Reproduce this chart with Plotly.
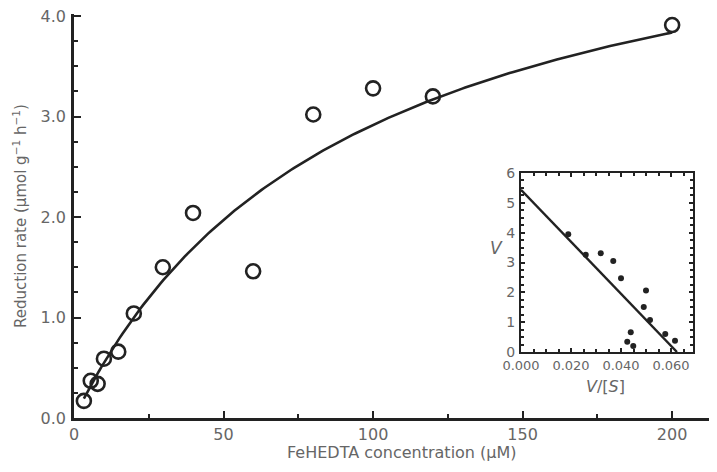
import numpy as np
import plotly.graph_objects as go

# Main data: FeHEDTA concentration (uM) vs reduction rate
conc = [3.3, 5.6, 7.9, 10, 14.8, 20, 29.7, 39.8, 59.9, 80, 100, 120, 200]
rate = [0.17, 0.37, 0.34, 0.59, 0.66, 1.04, 1.50, 2.04, 1.46, 3.02, 3.28, 3.20, 3.91]

# Michaelis-Menten curve parameters (main panel)
vmax_main = 5.6
km_main = 92.0

# Eadie-Hofstee line parameters (inset): V = vmax_inset - km_inset * V/[S]
vmax_inset = 5.44
km_inset = 87.2

# Inset (Eadie-Hofstee) data
eh_x = [0.0189, 0.0259, 0.0319, 0.0369, 0.040, 0.050, 0.0491, 0.0516, 0.0439, 0.0425, 0.0449, 0.0577, 0.0616]
eh_y = [3.95, 3.26, 3.31, 3.05, 2.47, 2.06, 1.51, 1.07, 0.66, 0.34, 0.20, 0.60, 0.38]

x_ticks = [0, 50, 100, 150, 200]
y_ticks = [0, 1, 2, 3, 4]
y_ticklabels = ["0.0", "1.0", "2.0", "3.0", "4.0"]
ix_ticks = [0.0, 0.02, 0.04, 0.06]
ix_ticklabels = ["0.000", "0.020", "0.040", "0.060"]
iy_ticks = [0, 1, 2, 3, 4, 5, 6]

fit_x = np.linspace(conc[0], 200, 200)
fit_y = vmax_main * fit_x / (km_main + fit_x)
line_x = np.array([0.0, vmax_inset / km_inset])
line_y = vmax_inset - km_inset * line_x

TXT = "#666666"
AX = "#222222"
FONT = "DejaVu Sans"

# page body has an 8px margin; figure is sized so that it fills the window
OFF = 8
W, H = 717 - OFF, 472 - OFF
L, T, B = 74 - OFF, 14 - OFF, 472 - 418
PW, PH = W - L, H - T - B


def px(xs):
    return (xs - OFF - L) / PW


def py(ys):
    return (H - B - (ys - OFF)) / PH


fig = go.Figure()
fig.add_trace(go.Scatter(x=fit_x, y=fit_y, mode="lines",
                         line=dict(color=AX, width=2.6), showlegend=False))
fig.add_trace(go.Scatter(x=conc, y=rate, mode="markers",
                         marker=dict(symbol="circle-open", size=14, color=AX,
                                     line=dict(width=2.6, color=AX)),
                         showlegend=False))
fig.add_trace(go.Scatter(x=line_x, y=line_y, mode="lines", xaxis="x2", yaxis="y2",
                         line=dict(color=AX, width=2.4), showlegend=False))
fig.add_trace(go.Scatter(x=eh_x, y=eh_y, mode="markers", xaxis="x2", yaxis="y2",
                         marker=dict(symbol="circle", size=6, color=AX),
                         showlegend=False))

fig.update_layout(
    width=W, height=H,
    margin=dict(l=L, r=0, t=T, b=B),
    paper_bgcolor="white", plot_bgcolor="white",
    font=dict(family=FONT, color=TXT, size=16),
    xaxis=dict(range=[0, 215], tickvals=x_ticks, ticktext=[str(v) for v in x_ticks],
               ticks="inside", ticklen=7, tickwidth=2, tickcolor=AX,
               minor=dict(dtick=25, tick0=0, ticks="inside", ticklen=4, tickwidth=2, tickcolor=AX),
               showline=True, linecolor=AX, linewidth=2.5, showgrid=False, zeroline=False,
               tickfont=dict(size=16, color=TXT), automargin=False, ticklabeloverflow="allow"),
    yaxis=dict(range=[0, 4.02], tickvals=y_ticks, ticktext=y_ticklabels,
               ticks="inside", ticklen=7, tickwidth=2, tickcolor=AX,
               minor=dict(dtick=0.25, tick0=0, ticks="inside", ticklen=4, tickwidth=2, tickcolor=AX),
               showline=True, linecolor=AX, linewidth=2.5, showgrid=False, zeroline=False,
               tickfont=dict(size=16, color=TXT), ticklabelstandoff=2, automargin=False,
               ticklabeloverflow="allow"),
    xaxis2=dict(domain=[px(521), px(693)], anchor="y2", range=[0, 0.0688],
                tickvals=ix_ticks, ticktext=ix_ticklabels,
                ticks="inside", ticklen=4, tickwidth=1.5, tickcolor=AX,
                minor=dict(dtick=0.005, tick0=0, ticks="inside", ticklen=3, tickwidth=1.5, tickcolor=AX),
                showline=True, mirror="allticks", linecolor=AX, linewidth=2.2,
                showgrid=False, zeroline=False, tickfont=dict(size=13, color=TXT),
                automargin=False),
    yaxis2=dict(domain=[py(352), py(173)], anchor="x2", range=[0, 6],
                tickvals=iy_ticks, ticktext=[str(v) for v in iy_ticks],
                ticks="inside", ticklen=4, tickwidth=1.5, tickcolor=AX,
                minor=dict(dtick=0.25, tick0=0, ticks="inside", ticklen=3, tickwidth=1.5, tickcolor=AX),
                showline=True, mirror="allticks", linecolor=AX, linewidth=2.2,
                showgrid=False, zeroline=False, tickfont=dict(size=14, color=TXT),
                ticklabelstandoff=1, automargin=False),
    annotations=[
        dict(text="Reduction rate (μmol g<sup>−1</sup> h<sup>−1</sup>)", xref="paper", yref="paper",
             x=px(20), y=py(216), showarrow=False, textangle=-90,
             font=dict(size=15, color=TXT, family=FONT), xanchor="center", yanchor="middle"),
        dict(text="FeHEDTA concentration (μM)", xref="paper", yref="paper",
             x=px(402), y=py(452), showarrow=False,
             font=dict(size=16, color=TXT, family=FONT), xanchor="center", yanchor="middle"),
        dict(text="<i>V</i>", xref="paper", yref="paper",
             x=px(496), y=py(248), showarrow=False,
             font=dict(size=17, color=TXT, family=FONT), xanchor="center", yanchor="middle"),
        dict(text="<i>V</i>/[<i>S</i>]", xref="paper", yref="paper",
             x=px(605), y=py(386), showarrow=False,
             font=dict(size=16, color=TXT, family=FONT), xanchor="center", yanchor="middle"),
    ],
)

fig.write_html("out.html")
